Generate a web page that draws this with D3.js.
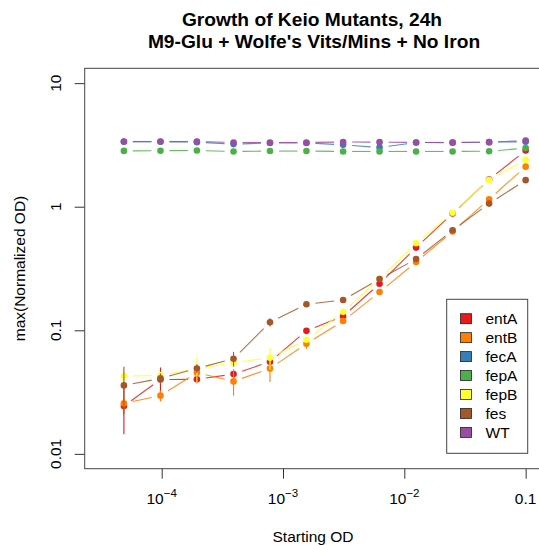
<!DOCTYPE html>
<html>
<head>
<meta charset="utf-8">
<script src="https://cdn.jsdelivr.net/npm/d3@7"></script>
<style>
    body { margin: 0; background: #fff; }
    svg { display: block; font-family: "Liberation Sans", Arial, Helvetica, sans-serif; }
</style>
</head>
<body>
<div id="chart"></div>
<script>
/*jshint esversion: 6 */

// starting OD (2-fold dilution series)
const startOD = [0.0000488, 0.0000977, 0.000195, 0.000391, 0.000781, 0.00156,
                 0.00313, 0.00625, 0.0125, 0.025, 0.05, 0.1];

const strains = ["entA", "entB", "fecA", "fepA", "fepB", "fes", "WT"];
const strainColors = ["#E41A1C", "#FF7F00", "#377EB8", "#4DAF4A", "#FFFF33", "#A65628", "#984EA3"];

// max(normalized OD) means
const entA = [0.0244, 0.0400, 0.0401, 0.0442, 0.0557, 0.0990, 0.130, 0.238, 0.467, 0.880, 1.66, 2.85];
const entB = [0.0256, 0.0296, 0.0454, 0.0386, 0.0491, 0.0778, 0.119, 0.204, 0.357, 0.630, 1.15, 2.11];
const fecA = [3.35, 3.35, 3.33, 3.21, 3.28, 3.28, 3.17, 3.01, 3.31, 3.30, 3.33, 3.35];
const fepA = [2.83, 2.84, 2.85, 2.80, 2.82, 2.82, 2.80, 2.80, 2.80, 2.80, 2.81, 2.98];
const fepB = [0.0426, 0.0431, 0.0490, 0.0546, 0.0600, 0.0838, 0.141, 0.262, 0.506, 0.893, 1.645, 2.40];
const fes  = [0.0358, 0.0408, 0.0491, 0.0589, 0.1163, 0.1625, 0.176, 0.260, 0.377, 0.645, 1.06, 1.64];
const WT   = [3.37, 3.37, 3.37, 3.31, 3.31, 3.31, 3.34, 3.33, 3.31, 3.31, 3.33, 3.43];

// standard deviations (error bars)
const entAsd = [0.010, 0.010, 0.003, 0.004, 0.004, 0.004, 0.005, 0.008, 0.012, 0.02, 0.03, 0.05];
const entBsd = [0.003, 0.003, 0.003, 0.009, 0.011, 0.007, 0.006, 0.008, 0.010, 0.02, 0.03, 0.04];
const fecAsd = [0.03, 0.03, 0.03, 0.03, 0.03, 0.03, 0.03, 0.03, 0.03, 0.03, 0.03, 0.03];
const fepAsd = [0.03, 0.03, 0.03, 0.03, 0.03, 0.03, 0.03, 0.03, 0.03, 0.03, 0.03, 0.03];
const fepBsd = [0.004, 0.003, 0.012, 0.004, 0.012, 0.004, 0.005, 0.008, 0.010, 0.02, 0.03, 0.04];
const fessd  = [0.015, 0.004, 0.004, 0.008, 0.009, 0.005, 0.005, 0.008, 0.010, 0.02, 0.03, 0.04];
const WTsd   = [0.03, 0.03, 0.03, 0.03, 0.03, 0.03, 0.03, 0.03, 0.03, 0.03, 0.03, 0.03];

const xTicks = [1e-4, 1e-3, 1e-2, 1e-1];
const xTickLabels = [["10", "\u22124"], ["10", "\u22123"], ["10", "\u22122"], ["0.1", ""]];
const yTicks = [0.01, 0.1, 1, 10];
const yTickLabels = ["0.01", "0.1", "1", "10"];

const xLim = [3.2e-5, 0.1];
const yLim = [0.01, 10];

(function (window) {

    let means = [entA, entB, fecA, fepA, fepB, fes, WT];
    let sds = [entAsd, entBsd, fecAsd, fepAsd, fepBsd, fessd, WTsd];

    let width = 539, height = 545;
    let box = { left: 84.7, right: 542.6, top: 68.3, bottom: 468.7 };

    // R style 4% padding on log axes
    function padLog(lim) {
        let a = Math.log10(lim[0]), b = Math.log10(lim[1]);
        let p = (b - a) * 0.04;
        return [Math.pow(10, a - p), Math.pow(10, b + p)];
    }

    let x = d3.scaleLog().domain(padLog(xLim)).range([box.left, box.right]);
    let y = d3.scaleLog().domain(padLog(yLim)).range([box.bottom, box.top]);

    let svg = d3.select("#chart").append("svg")
        .attr("width", width)
        .attr("height", height);

    // title
    let title = svg.append("text")
        .attr("text-anchor", "middle")
        .style("font-size", "19.2px")
        .style("font-weight", "bold")
        .attr("fill", "#000");
    title.append("tspan").attr("x", 312).attr("y", 26).text("Growth of Keio Mutants, 24h");
    title.append("tspan").attr("x", 314).attr("y", 48).text("M9-Glu + Wolfe's Vits/Mins + No Iron");

    // x axis
    let xAxis = svg.append("g")
        .attr("transform", "translate(0," + box.bottom + ")")
        .call(d3.axisBottom(x).tickValues(xTicks).tickSize(10).tickFormat(""));
    xAxis.select(".domain").remove();
    xAxis.selectAll(".tick line").attr("stroke", "#333");

    let xLab = svg.append("g").selectAll("text")
        .data(xTicks)
        .enter().append("text")
        .attr("x", function (d) { return x(d); })
        .attr("y", 504)
        .attr("text-anchor", "middle")
        .style("font-size", "15.5px")
        .attr("fill", "#000");
    xLab.append("tspan").text(function (d, i) { return xTickLabels[i][0]; });
    xLab.append("tspan")
        .attr("dy", -7)
        .style("font-size", "11.5px")
        .text(function (d, i) { return xTickLabels[i][1]; });

    // y axis
    let yAxis = svg.append("g")
        .attr("transform", "translate(" + box.left + ",0)")
        .call(d3.axisLeft(y).tickValues(yTicks).tickSize(10).tickFormat(""));
    yAxis.select(".domain").remove();
    yAxis.selectAll(".tick line").attr("stroke", "#333");

    svg.append("g").selectAll("text")
        .data(yTicks)
        .enter().append("text")
        .attr("transform", function (d) {
            return "translate(61," + y(d) + ") rotate(-90)";
        })
        .attr("text-anchor", "middle")
        .style("font-size", "15.5px")
        .attr("fill", "#000")
        .text(function (d, i) { return yTickLabels[i]; });

    // axis titles
    svg.append("text")
        .attr("x", 313)
        .attr("y", 542)
        .attr("text-anchor", "middle")
        .style("font-size", "15.5px")
        .text("Starting OD");

    svg.append("text")
        .attr("transform", "translate(25," + ((box.top + box.bottom) / 2) + ") rotate(-90)")
        .attr("text-anchor", "middle")
        .style("font-size", "15.5px")
        .text("max(Normalized OD)");

    // plot box
    svg.append("rect")
        .attr("x", box.left)
        .attr("y", box.top)
        .attr("width", box.right - box.left)
        .attr("height", box.bottom - box.top)
        .attr("fill", "none")
        .attr("stroke", "#444")
        .attr("stroke-width", 1);

    // series, drawn like R type = "b"
    let gap = 9;
    let plot = svg.append("g");

    means.forEach(function (vals, s) {
        let col = strainColors[s];
        let g = plot.append("g").attr("class", "serie");
        let pts = vals.map(function (v, i) { return [x(startOD[i]), y(v)]; });

        let segs = [];
        for (let i = 0; i < pts.length - 1; i++) {
            let dx = pts[i + 1][0] - pts[i][0], dy = pts[i + 1][1] - pts[i][1];
            let len = Math.sqrt(dx * dx + dy * dy);
            if (len > 2 * gap) {
                let ux = dx / len, uy = dy / len;
                segs.push([pts[i][0] + ux * gap, pts[i][1] + uy * gap,
                           pts[i + 1][0] - ux * gap, pts[i + 1][1] - uy * gap]);
            }
        }
        g.selectAll("line.seg")
            .data(segs)
            .enter().append("line")
            .attr("class", "seg")
            .attr("x1", function (d) { return d[0]; })
            .attr("y1", function (d) { return d[1]; })
            .attr("x2", function (d) { return d[2]; })
            .attr("y2", function (d) { return d[3]; })
            .attr("stroke", col)
            .attr("stroke-opacity", 0.85)
            .attr("stroke-width", 1.1);

        g.selectAll("line.err")
            .data(vals)
            .enter().append("line")
            .attr("class", "err")
            .attr("x1", function (d, i) { return x(startOD[i]); })
            .attr("x2", function (d, i) { return x(startOD[i]); })
            .attr("y1", function (d, i) { return y(d + sds[s][i]); })
            .attr("y2", function (d, i) { return y(Math.max(d - sds[s][i], 1e-4)); })
            .attr("stroke", col)
            .attr("stroke-width", 1.1);

        g.selectAll("circle")
            .data(vals)
            .enter().append("circle")
            .attr("cx", function (d, i) { return x(startOD[i]); })
            .attr("cy", function (d) { return y(d); })
            .attr("r", 3.3)
            .attr("fill", col);
    });

    // legend
    let lg = svg.append("g");
    lg.append("rect")
        .attr("x", 446.7)
        .attr("y", 299.3)
        .attr("width", 81)
        .attr("height", 154)
        .attr("fill", "#fff")
        .attr("stroke", "#444");

    let item = lg.selectAll(".legend")
        .data(strains)
        .enter().append("g")
        .attr("class", "legend")
        .attr("transform", function (d, i) {
            return "translate(0," + (318.7 + i * 18.95) + ")";
        });
    item.append("rect")
        .attr("x", 460.5)
        .attr("y", -5)
        .attr("width", 11)
        .attr("height", 10)
        .attr("fill", function (d, i) { return strainColors[i]; })
        .attr("stroke", "#222")
        .attr("stroke-width", 0.8);
    item.append("text")
        .attr("x", 485.5)
        .attr("y", 0)
        .attr("dy", "0.35em")
        .style("font-size", "15.5px")
        .text(function (d) { return d; });

})(window);
</script>
</body>
</html>
